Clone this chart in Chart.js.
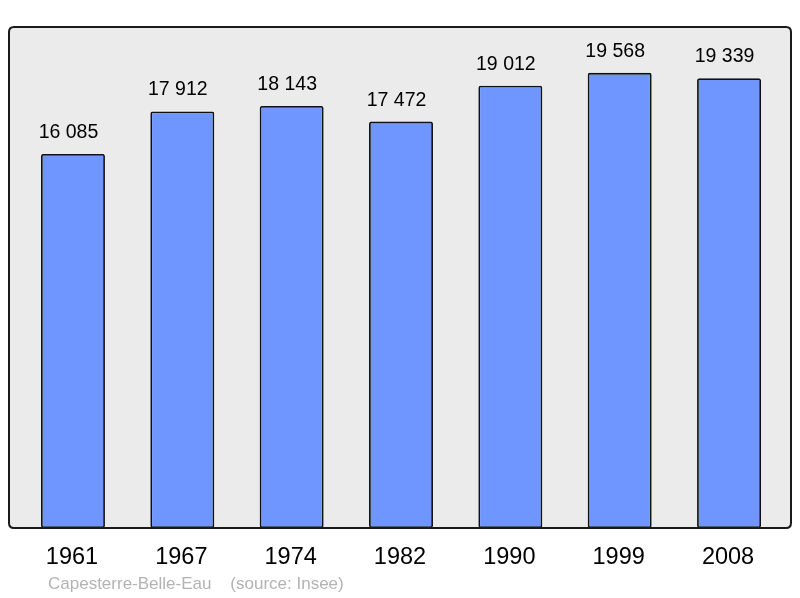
<!DOCTYPE html>
<html><head><meta charset="utf-8">
<script src="https://cdn.jsdelivr.net/npm/chart.js@4"></script>
<style>html,body{margin:0;padding:0;background:#fff}#wrap{width:800px;height:598px}</style>
</head><body><div id="wrap"><canvas id="c" width="800" height="598"></canvas></div>
<script>
const categories = ["1961","1967","1974","1982","1990","1999","2008"];
const population = [16085,17912,18143,17472,19012,19568,19339];
const valueLabels = ["16 085","17 912","18 143","17 472","19 012","19 568","19 339"];
const sourceText = "Capesterre-Belle-Eau    (source: Insee)";

function roundRect(ctx,x,y,w,h,r){ctx.beginPath();ctx.moveTo(x+r,y);ctx.lineTo(x+w-r,y);ctx.quadraticCurveTo(x+w,y,x+w,y+r);ctx.lineTo(x+w,y+h-r);ctx.quadraticCurveTo(x+w,y+h,x+w-r,y+h);ctx.lineTo(x+r,y+h);ctx.quadraticCurveTo(x,y+h,x,y+h-r);ctx.lineTo(x,y+r);ctx.quadraticCurveTo(x,y,x+r,y);ctx.closePath();}

const frame = {
  id:'frame',
  beforeDatasetsDraw(chart){
    const {ctx,chartArea:a}=chart;
    ctx.save();
    roundRect(ctx,9,a.top,782,a.bottom-a.top,5);
    ctx.fillStyle='#ebebeb';ctx.fill();
    ctx.restore();
  },
  afterDatasetsDraw(chart){
    const {ctx,chartArea:a,scales}=chart;
    ctx.save();
    roundRect(ctx,9,a.top,782,a.bottom-a.top,5);
    ctx.lineWidth=2;ctx.strokeStyle='#1a1a1a';ctx.stroke();
    ctx.fillStyle='#000';ctx.textAlign='center';ctx.textBaseline='alphabetic';
    ctx.font='19.5px "Liberation Sans", Arial, sans-serif';
    const meta=chart.getDatasetMeta(0);
    meta.data.forEach((bar,i)=>{ctx.fillText(valueLabels[i],bar.x-4.5,bar.y-16);});
    ctx.font='23.5px "Liberation Sans", Arial, sans-serif';
    categories.forEach((c,i)=>{ctx.fillText(c,scales.x.getPixelForValue(i)-1,564);});
    ctx.textAlign='left';ctx.fillStyle='#b3b3b3';ctx.font='17px "Liberation Sans", Arial, sans-serif';
    ctx.fillText(sourceText,48,589);
    ctx.restore();
  }
};

new Chart(document.getElementById('c'),{
  type:'bar',
  data:{labels:categories,datasets:[{data:population,backgroundColor:'#6f96ff',borderColor:'#111',borderWidth:1.8,borderRadius:2,borderSkipped:false,barPercentage:0.585,categoryPercentage:1}]},
  options:{
    responsive:false,animation:false,devicePixelRatio:1,
    layout:{padding:{left:18.3,right:16.3,top:27,bottom:70}},
    plugins:{legend:{display:false},tooltip:{enabled:false}},
    scales:{
      x:{display:false,offset:true},
      y:{display:false,min:0,max:21540}
    }
  },
  plugins:[frame]
});
</script></body></html>
